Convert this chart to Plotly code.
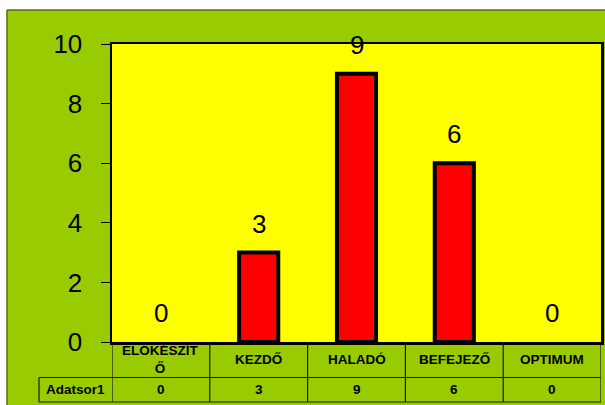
import plotly.graph_objects as go

categories = ["ELŐKÉSZÍTŐ", "KEZDŐ", "HALADÓ", "BEFEJEZŐ", "OPTIMUM"]
category_labels = ["ELŐKÉSZÍT<br>Ő", "KEZDŐ", "HALADÓ", "BEFEJEZŐ", "OPTIMUM"]
series_name = "Adatsor1"
values = [0, 3, 9, 6, 0]
y_ticks = [0, 2, 4, 6, 8, 10]

W, H = 605, 405
FONT = "Arial, Liberation Sans, sans-serif"
GREEN = "#99CC00"
YELLOW = "#FFFF00"
RED = "#FF0000"

def px(x):
    return x / W

def py(y):
    return 1 - y / H

PL, PR, PT, PB = 112, 601, 44, 342
ROW1, ROW2 = 377.5, 402

fig = go.Figure()
fig.add_trace(go.Bar(
    x=categories, y=values, width=0.4,
    marker=dict(color=RED, line=dict(color="black", width=[0 if v == 0 else 4 for v in values])),
    cliponaxis=False, hoverinfo="skip", showlegend=False,
))

tfont = dict(family=FONT, size=13.5, color="black")
annotations = []
for c, v in zip(categories, values):
    annotations.append(dict(x=c, y=v, xref="x", yref="y", text=str(v),
                            showarrow=False, yshift=29, xanchor="center", yanchor="middle",
                            font=dict(family=FONT, size=26, color="black")))
for c, lab in zip(categories, category_labels):
    annotations.append(dict(x=c, y=py((PB + ROW1) / 2), xref="x", yref="paper",
                            text="<b>" + lab + "</b>", showarrow=False,
                            xanchor="center", yanchor="middle", font=tfont))
for c, v in zip(categories, values):
    annotations.append(dict(x=c, y=py((ROW1 + ROW2) / 2), xref="x", yref="paper",
                            text="<b>" + str(v) + "</b>", showarrow=False,
                            xanchor="center", yanchor="middle", font=tfont))
annotations.append(dict(x=px((39 + PL) / 2), y=py((ROW1 + ROW2) / 2), xref="paper",
                        yref="paper", text="<b>" + series_name + "</b>", showarrow=False,
                        xanchor="center", yanchor="middle", font=tfont))

shapes = []
# white strips outside the chart border
shapes.append(dict(type="rect", xref="paper", yref="paper", x0=0, x1=1, y0=py(10), y1=1,
                   fillcolor="white", line=dict(width=0), layer="below"))
shapes.append(dict(type="rect", xref="paper", yref="paper", x0=0, x1=px(7), y0=0, y1=1,
                   fillcolor="white", line=dict(width=0), layer="below"))
# chart border
shapes.append(dict(type="line", xref="paper", yref="paper", x0=px(7), x1=1, y0=py(10), y1=py(10),
                   line=dict(color="#5A6B10", width=1.5)))
shapes.append(dict(type="line", xref="paper", yref="paper", x0=px(7), x1=px(7), y0=py(10), y1=0,
                   line=dict(color="#5A6B10", width=1.5)))
# table grid
lc = dict(color="#1a1a00", width=1.2)
shapes.append(dict(type="line", xref="paper", yref="paper", x0=px(39), x1=px(PR), y0=py(ROW1), y1=py(ROW1), line=lc))
shapes.append(dict(type="line", xref="paper", yref="paper", x0=px(39), x1=px(PR), y0=py(ROW2), y1=py(ROW2), line=lc))
shapes.append(dict(type="line", xref="paper", yref="paper", x0=px(39), x1=px(39), y0=py(ROW1), y1=py(ROW2), line=lc))
for i in range(len(categories) + 1):
    shapes.append(dict(type="line", xref="x", yref="paper", x0=i - 0.5, x1=i - 0.5,
                       y0=py(PB), y1=py(ROW2), line=lc))

fig.update_layout(
    template="none",
    width=W, height=H,
    margin=dict(l=0, r=0, t=0, b=0, pad=0, autoexpand=False),
    paper_bgcolor=GREEN, plot_bgcolor=YELLOW,
    font=dict(family=FONT, color="black"),
    xaxis=dict(domain=[px(PL), px(PR)], range=[-0.5, len(categories) - 0.5],
               showticklabels=False, ticks="", showgrid=False, zeroline=False, automargin=False,
               showline=True, linecolor="black", linewidth=2.5, mirror=True, fixedrange=True),
    yaxis=dict(domain=[py(PB), py(PT)], range=[0, 10], tickvals=y_ticks,
               ticks="outside", ticklen=9, tickwidth=1, tickcolor="black",
               ticklabelstandoff=13, automargin=False,
               tickfont=dict(family=FONT, size=26, color="black"),
               showgrid=False, zeroline=False,
               showline=True, linecolor="black", linewidth=2.5, mirror=True, fixedrange=True),
    annotations=annotations, shapes=shapes,
    showlegend=False,
)

fig.write_html("out.html", config={"displayModeBar": False, "staticPlot": True},
               post_script="document.body.style.margin='0';document.body.style.overflow='hidden';")
